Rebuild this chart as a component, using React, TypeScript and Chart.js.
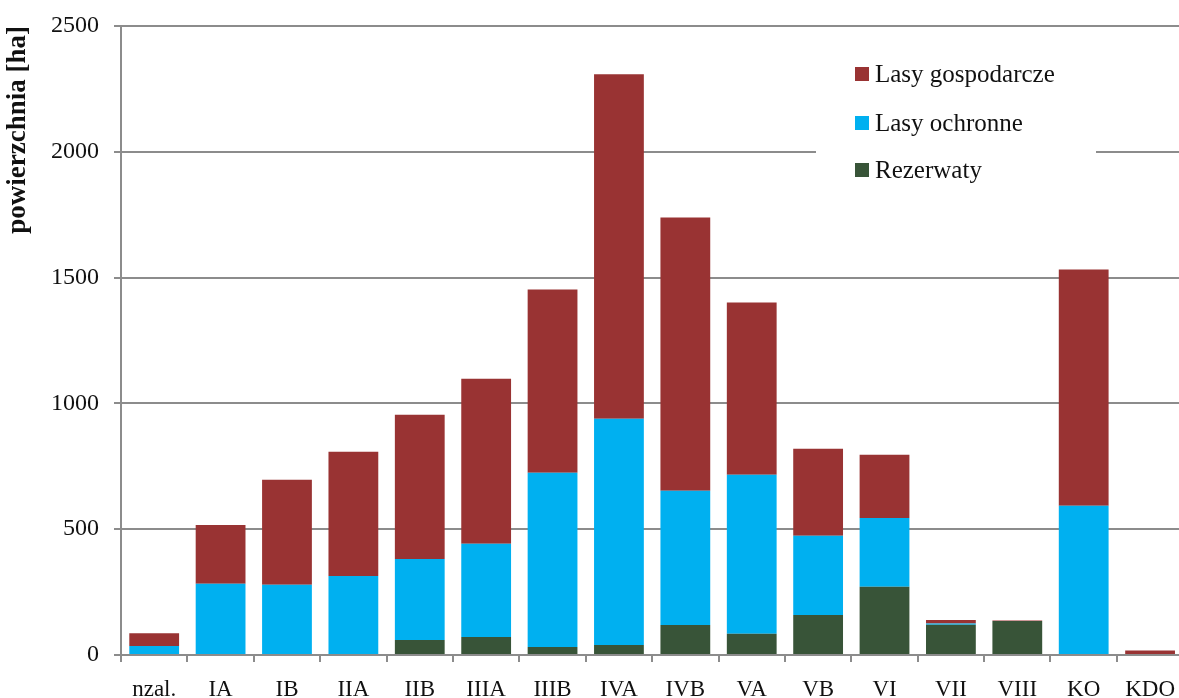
import React, { useEffect, useRef } from "react";
import { Chart, registerables } from "chart.js";

Chart.register(...registerables);

const categories = ["nzal.", "IA", "IB", "IIA", "IIB", "IIIA", "IIIB", "IVA", "IVB", "VA", "VB", "VI", "VII", "VIII", "KO", "KDO"];
const rezerwaty = [0, 0, 0, 0, 60, 72, 32, 40, 119, 84, 159, 271, 120, 135, 0, 0];
const lasyOchronne = [36, 283, 279, 314, 322, 370, 692, 899, 534, 632, 315, 274, 5, 0, 593, 0];
const lasyGospodarcze = [50, 234, 418, 494, 573, 656, 729, 1369, 1086, 685, 346, 251, 14, 2, 939, 18];
const yTicks = [0, 500, 1000, 1500, 2000, 2500];

const COLORS = { gosp: "#993333", och: "#00B0F0", rez: "#385438" };
const FONT = "'Liberation Serif', 'Times New Roman', serif";

const legendPlugin = {
  id: "insideLegend",
  afterDraw(chart: any) {
    const ctx = chart.ctx;
    ctx.save();
    ctx.fillStyle = "#ffffff";
    ctx.fillRect(816, 46, 280, 150);
    const items = [
      { label: "Lasy gospodarcze", color: COLORS.gosp, y: 74 },
      { label: "Lasy ochronne", color: COLORS.och, y: 123 },
      { label: "Rezerwaty", color: COLORS.rez, y: 170 },
    ];
    ctx.font = `25px ${FONT}`;
    ctx.textBaseline = "middle";
    ctx.textAlign = "left";
    for (const it of items) {
      ctx.fillStyle = it.color;
      ctx.fillRect(855, it.y - 7, 14, 14);
      ctx.fillStyle = "#111111";
      ctx.fillText(it.label, 875, it.y + 1);
    }
    ctx.restore();
  },
};

export default function App() {
  const ref = useRef<HTMLCanvasElement>(null);
  useEffect(() => {
    document.body.style.margin = "0";
    document.body.style.overflow = "hidden";
    const chart = new Chart(ref.current!, {
      type: "bar",
      data: {
        labels: categories,
        datasets: [
          { label: "Rezerwaty", data: rezerwaty, backgroundColor: COLORS.rez },
          { label: "Lasy ochronne", data: lasyOchronne, backgroundColor: COLORS.och },
          { label: "Lasy gospodarcze", data: lasyGospodarcze, backgroundColor: COLORS.gosp },
        ],
      },
      options: {
        responsive: false,
        animation: false,
        layout: { padding: { top: 26, left: 0, right: 0, bottom: 0 } },
        datasets: { bar: { barPercentage: 0.75, categoryPercentage: 1 } },
        plugins: { legend: { display: false }, tooltip: { enabled: false } },
        scales: {
          x: {
            stacked: true,
            grid: { display: true, drawOnChartArea: false, drawTicks: true, tickLength: 7, color: "#8c8c8c", lineWidth: 2, offset: true },
            border: { display: true, color: "#8c8c8c", width: 2 },
            ticks: { color: "#111", font: { family: FONT, size: 23 }, padding: 14, maxRotation: 0, autoSkip: false },
            afterFit: (s: any) => { s.height = 43; },
          },
          y: {
            stacked: true,
            min: 0,
            max: 2500,
            afterBuildTicks: (s: any) => { s.ticks = yTicks.map((v) => ({ value: v })); },
            grid: { color: "#8c8c8c", lineWidth: 2, drawTicks: true, tickLength: 7 },
            border: { display: true, color: "#8c8c8c", width: 2 },
            ticks: { color: "#111", font: { family: FONT, size: 24 }, padding: 15, callback: (v: any) => String(v) },
            title: { display: true, text: "powierzchnia [ha]", align: "end", color: "#111", font: { family: FONT, size: 27, weight: "bold" }, padding: { top: 2, bottom: 0 } },
            afterFit: (s: any) => { s.width = 121; s.paddingTop = 0; s.paddingBottom = 0; },
          },
        },
      },
      plugins: [legendPlugin],
    });
    return () => chart.destroy();
  }, []);
  return (
    <div style={{ width: 1179, height: 698, overflow: "hidden", background: "#fff" }}>
      <canvas ref={ref} width={1189} height={698} style={{ display: "block" }} />
    </div>
  );
}
